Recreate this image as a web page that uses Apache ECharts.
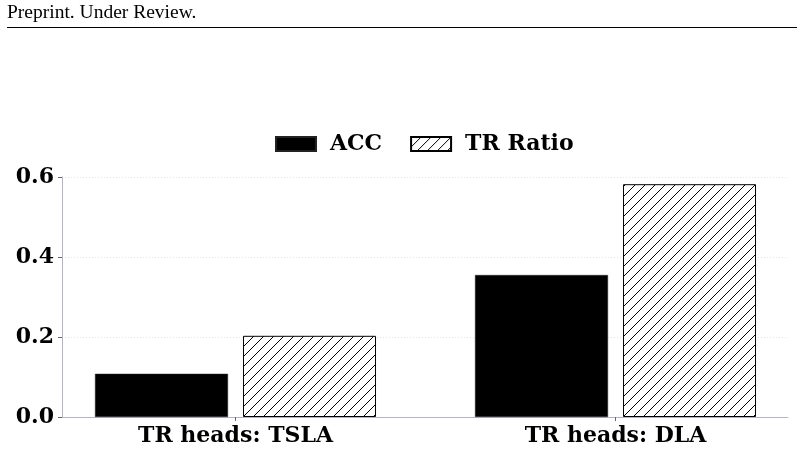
<!DOCTYPE html>
<html><head><meta charset="utf-8">
<script src="https://cdn.jsdelivr.net/npm/echarts@6/dist/echarts.min.js"></script>
<style>html,body{margin:0;padding:0;background:#fff}#c{width:804px;height:450px}</style>
</head><body><div id="c"></div>
<script>
const categories = ['TR heads: TSLA', 'TR heads: DLA'];
const seriesNames = ['ACC', 'TR Ratio'];
const accValues = [0.108, 0.355];
const trRatioValues = [0.203, 0.582];

function hatch() {
  const s = 10, c = document.createElement('canvas');
  c.width = s; c.height = s;
  const g = c.getContext('2d');
  g.fillStyle = '#fff'; g.fillRect(0, 0, s, s);
  g.strokeStyle = '#000'; g.lineWidth = 1;
  g.beginPath();
  g.moveTo(-1, s + 1); g.lineTo(s + 1, -1);
  g.moveTo(-1, 1); g.lineTo(1, -1);
  g.moveTo(s - 1, s + 1); g.lineTo(s + 1, s - 1);
  g.stroke();
  return c;
}
const hatchFill = { image: hatch(), repeat: 'repeat' };
const font = '"DejaVu Serif", serif';
const axisColor = '#b4b4c4';

const chart = echarts.init(document.getElementById('c'), null, { renderer: 'canvas' });
chart.setOption({
  animation: false,
  textStyle: { fontFamily: font },
  graphic: [
    { type: 'text', left: 7, top: 3, style: { text: 'Preprint. Under Review.', font: '19.5px "Liberation Serif", serif', fill: '#000' } },
    { type: 'line', shape: { x1: 7, y1: 27.5, x2: 797, y2: 27.5 }, style: { stroke: '#000', lineWidth: 1 } }
  ],
  legend: {
    top: 128, left: 270, itemWidth: 40, itemHeight: 14, itemGap: 28, icon: 'rect',
    textStyle: { fontFamily: font, fontWeight: 'bold', fontSize: 22, color: '#000', padding: [0, 0, 0, 9] },
    data: seriesNames
  },
  grid: { left: 62, right: 16, top: 177, bottom: 33 },
  xAxis: {
    type: 'value', min: -0.4566, max: 1.4539,
    axisLine: { lineStyle: { color: axisColor } },
    axisTick: { show: true, length: 4, lineStyle: { color: '#666' }, customValues: [0, 1] },
    axisLabel: {
      customValues: [0, 1], margin: 8,
      fontFamily: font, fontWeight: 'bold', fontSize: 22, color: '#000',
      formatter: v => categories[Math.round(v)]
    },
    splitLine: { show: false }
  },
  yAxis: {
    type: 'value', min: 0, max: 0.6, interval: 0.2,
    axisLine: { show: true, onZero: false, lineStyle: { color: axisColor } },
    axisTick: { show: true, length: 4, lineStyle: { color: '#666' } },
    axisLabel: { fontFamily: font, fontWeight: 'bold', fontSize: 22, color: '#000', margin: 8, formatter: v => v.toFixed(1) },
    splitLine: { show: true, lineStyle: { color: '#e4e4e4', type: [1, 2] } }
  },
  series: [
    {
      name: seriesNames[0], type: 'bar', barWidth: 133, barGap: '11.3%',
      data: accValues.map((v, i) => [i, v]),
      itemStyle: { color: '#000', borderColor: '#222', borderWidth: 0.5 }
    },
    {
      name: seriesNames[1], type: 'bar', barWidth: 133, barGap: '11.3%',
      data: trRatioValues.map((v, i) => [i, v]),
      itemStyle: { color: hatchFill, borderColor: '#000', borderWidth: 1 }
    }
  ]
});
</script></body></html>
